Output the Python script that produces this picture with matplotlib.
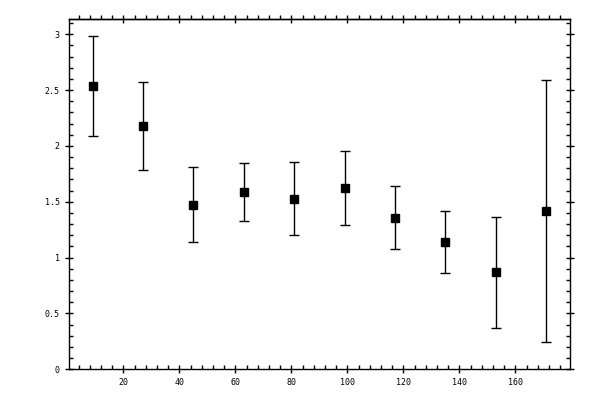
import numpy as np
import matplotlib
matplotlib.use('Agg')
import matplotlib.pyplot as plt
from matplotlib.ticker import MultipleLocator, FormatStrFormatter

# bin centres and values with lower/upper error ends
x = [9, 27, 45, 63, 81, 99, 117, 135, 153, 171]
y = [2.534, 2.176, 1.469, 1.585, 1.522, 1.621, 1.352, 1.137, 0.869, 1.415]
y_lo = [2.087, 1.782, 1.137, 1.325, 1.200, 1.290, 1.077, 0.860, 0.367, 0.244]
y_hi = [2.987, 2.570, 1.809, 1.845, 1.854, 1.952, 1.639, 1.415, 1.361, 2.588]

y = np.array(y)
err = [y - np.array(y_lo), np.array(y_hi) - y]

plt.rcParams['font.family'] = ['DejaVu Sans Mono']
plt.rcParams['font.size'] = 6

fig = plt.figure(figsize=(6, 4), dpi=100)
ax = fig.add_axes([0.1155, 0.0768, 0.835, 0.875])

ax.errorbar(x, y, yerr=err, fmt='s', color='black', ecolor='black',
            markersize=5.2, elinewidth=1, capsize=3.6, capthick=1)

ax.set_xlim(0.7, 179.6)
ax.set_ylim(0, 3.134)

for s in ax.spines.values():
    s.set_linewidth(1)

ax.xaxis.set_major_locator(MultipleLocator(20))
ax.xaxis.set_minor_locator(MultipleLocator(4))
ax.yaxis.set_major_locator(MultipleLocator(0.5))
ax.yaxis.set_minor_locator(MultipleLocator(0.1))
ax.yaxis.set_major_formatter(FormatStrFormatter('%g'))

ax.tick_params(which='major', direction='inout', length=6, width=1,
               left=True, right=True, bottom=True, top=False)
ax.tick_params(which='minor', direction='in', length=2.8, width=1,
               left=True, right=True, bottom=True, top=False)
ax.tick_params(axis='x', pad=3)
ax.tick_params(axis='y', pad=4)

# top axis: crossing majors, outward minors
top = ax.secondary_xaxis('top')
top.xaxis.set_major_locator(MultipleLocator(20))
top.xaxis.set_minor_locator(MultipleLocator(4))
top.tick_params(which='major', direction='inout', length=6, width=1, labeltop=False)
top.tick_params(which='minor', direction='out', length=2.6, width=1)
top.spines['top'].set_linewidth(1)

plt.savefig('out.png', dpi=100)
